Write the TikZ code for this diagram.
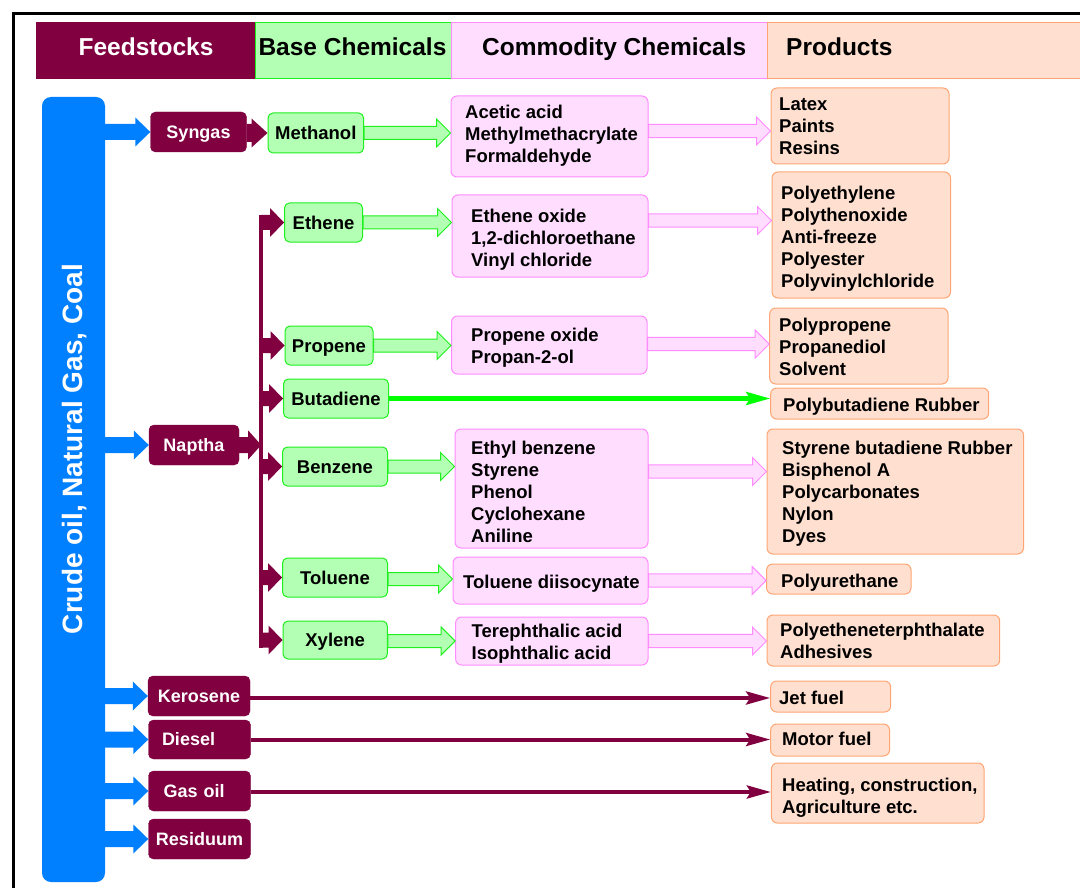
\documentclass[tikz,border=0pt]{standalone}
\usepackage{fontspec}
\setmainfont{Liberation Sans}
\usetikzlibrary{calc,arrows.meta}
\definecolor{mrn}{RGB}{128,0,64}
\definecolor{blu}{RGB}{0,128,255}
\definecolor{gfill}{RGB}{179,255,179}
\definecolor{gline}{RGB}{30,240,30}
\definecolor{pfill}{RGB}{255,221,255}
\definecolor{pline}{RGB}{255,140,255}
\definecolor{ofill}{RGB}{255,224,208}
\definecolor{oline}{RGB}{255,165,115}
\definecolor{lgreen}{RGB}{0,255,0}
\newcommand{\myhead}{\fontsize{24.5}{28}\selectfont\bfseries}
\newcommand{\mybody}{\fontsize{18.5}{22}\selectfont\bfseries}
\newcommand{\myfeed}{\fontsize{18}{22}\selectfont\bfseries}
\newcommand{\myvert}{\fontsize{28}{32}\selectfont\bfseries}
% #1 style, #2 start, #3 end (tip), #4 shaft half, #5 head half, #6 head length
\newcommand{\blockarrow}[6]{%
  \path[#1] let \p1=(#2), \p2=(#3) in
    (\x1,\y2+#4) -- (\x2-#6,\y2+#4) -- (\x2-#6,\y2+#5) -- (\x2,\y2)
    -- (\x2-#6,\y2-#5) -- (\x2-#6,\y2-#4) -- (\x1,\y2-#4) -- cycle;}
\begin{document}
\begin{tikzpicture}[x=1pt,y=-1pt,
  hdr/.style={rectangle, inner sep=0pt, minimum height=56pt},
  htxt/.style={inner sep=0pt, font=\myhead, text height=17.5pt, text depth=0pt},
  feed/.style={rectangle, rounded corners=5pt, fill=mrn, draw=mrn, text=white,
    font=\myfeed, inner sep=0pt, minimum height=40pt, text height=12.9pt, text depth=0pt},
  base/.style={rectangle, rounded corners=5pt, fill=gfill, draw=gline, line width=1pt,
    font=\mybody, inner sep=0pt, minimum height=39pt, text height=13.2pt, text depth=0pt},
  comm/.style={rectangle, rounded corners=6pt, fill=pfill, draw=pline, line width=1pt, inner sep=0pt},
  prod/.style={rectangle, rounded corners=6pt, fill=ofill, draw=oline, line width=1pt, inner sep=0pt},
  txt/.style={anchor=west, align=left, inner sep=0pt, font=\mybody},
  bluearr/.style={fill=blu},
  mrnarr/.style={fill=mrn},
  grnarr/.style={fill=gfill, draw=gline, line width=1pt},
  pnkarr/.style={fill=pfill, draw=pline, line width=1pt},
  grnline/.style={draw=lgreen, line width=4.3pt, -{Stealth[length=24pt,width=13pt,inset=4pt]}},
  mrnline/.style={draw=mrn, line width=4pt, -{Stealth[length=24pt,width=13pt,inset=4pt]}}
]
\useasboundingbox (0,0) rectangle (1080,888);
\fill[white] (0,0) rectangle (1080,888);
% frame
\draw[line width=3.5pt] (13.5,888) -- (13.5,13.5) -- (1080,13.5);

% header
\node[hdr, fill=mrn, draw=mrn, minimum width=219pt] (hF) at (145.5,50) {};
\node[hdr, fill=gfill, draw=gline, minimum width=196pt] (hB) at (353,50) {};
\node[hdr, fill=pfill, draw=pline, minimum width=316pt] (hC) at (609,50) {};
\node[hdr, fill=ofill, draw=oline, minimum width=318pt] (hP) at (926,50) {};
\node[htxt, text=white] (hFt) at (146,47) {Feedstocks};
\node[htxt] (hBt) at (352.5,47) {Base Chemicals};
\node[htxt, anchor=west] (hCt) at (482,47) {Commodity Chemicals};
\node[htxt, anchor=west] (hPt) at (786,47) {Products};

% source bar
\node[rectangle, rounded corners=9pt, fill=blu, minimum width=63pt, minimum height=785pt, inner sep=0pt] (src) at (73.5,489.5) {};
\node[rotate=90, text=white, font=\myvert, inner sep=0pt, text height=20pt, text depth=0pt] (srct) at (72,449) {Crude oil, Natural Gas, Coal};

% feedstocks
\node[feed, minimum width=96pt] (syn) at (198.5,132) {Syngas};
\node[feed, minimum width=90pt] (nap) at (194,445) {Naptha};
\node[feed, minimum width=102pt] (ker) at (199,696) {Kerosene};
\node[feed, minimum width=102pt, minimum height=39pt, text width=75pt, inner xsep=13.5pt, align=left] (die) at (199.5,739.5) {Diesel};
\node[feed, minimum width=102pt, text width=72pt, inner xsep=15pt, align=left] (gas) at (199.5,791) {Gas oil};
\node[feed, minimum width=102pt] (res) at (199.5,839) {Residuum};

% base chemicals
\node[base, minimum width=95.6pt, minimum height=40pt] (meth) at (315.8,133) {Methanol};
\node[base, minimum width=78pt] (eth) at (323.5,222.5) {Ethene};
\node[base, minimum width=88pt] (prop) at (329,345.5) {Propene};
\node[base, minimum width=105pt] (buta) at (336,398.5) {Butadiene};
\node[base, minimum width=105pt] (benz) at (335,466.5) {Benzene};
\node[base, minimum width=105pt] (tol) at (335,577.5) {Toluene};
\node[base, minimum width=104.4pt, minimum height=38pt] (xyl) at (335.2,640) {Xylene};

% commodity chemicals
\node[comm, minimum width=197pt, minimum height=81pt] (c1) at (549.5,136.5) {};
\node[comm, minimum width=196pt, minimum height=82pt] (c2) at (550,236) {};
\node[comm, minimum width=195.5pt, minimum height=58pt] (c3) at (549.25,345) {};
\node[comm, minimum width=193pt, minimum height=119pt] (c4) at (551.5,488.5) {};
\node[comm, minimum width=195pt, minimum height=47pt] (c5) at (550.5,580.5) {};
\node[comm, minimum width=192.4pt, minimum height=48pt] (c6) at (551.8,641) {};
\node[txt] (c1t) at (465,135.7) {Acetic acid\\Methylmethacrylate\\Formaldehyde};
\node[txt] (c2t) at (471,240) {Ethene oxide\\1,2-dichloroethane\\Vinyl chloride};
\node[txt] (c3t) at (471,348.2) {Propene oxide\\Propan-2-ol};
\node[txt] (c4t) at (471,491.6) {Ethyl benzene\\Styrene\\Phenol\\Cyclohexane\\Aniline};
\node[txt] (c5t) at (463,583.7) {Toluene diisocynate};
\node[txt] (c6t) at (471.5,643.8) {Terephthalic acid\\Isophthalic acid};

% products
\node[prod, minimum width=178pt, minimum height=76pt] (p1) at (860,126) {};
\node[prod, minimum width=178.5pt, minimum height=126pt] (p2) at (861.25,235) {};
\node[prod, minimum width=178.3pt, minimum height=76pt] (p3) at (858.85,346) {};
\node[prod, minimum width=218pt, minimum height=31pt] (p4) at (879.7,403.5) {};
\node[prod, minimum width=256.5pt, minimum height=125pt] (p5) at (895.25,491.5) {};
\node[prod, minimum width=144.4pt, minimum height=30pt] (p6) at (838.8,579) {};
\node[prod, minimum width=232.7pt, minimum height=51pt] (p7) at (883.35,640.5) {};
\node[prod, minimum width=120pt, minimum height=31pt] (p8) at (830.65,696.5) {};
\node[prod, minimum width=118.8pt, minimum height=32pt] (p9) at (830.1,740) {};
\node[prod, minimum width=212.6pt, minimum height=60pt] (p10) at (877.7,793) {};
\node[txt] (p1t) at (779,126.3) {Latex\\Paints\\Resins};
\node[txt] (p2t) at (781,239.2) {Polyethylene\\Polythenoxide\\Anti-freeze\\Polyester\\Polyvinylchloride};
\node[txt] (p3t) at (779,347.3) {Polypropene\\Propanediol\\Solvent};
\node[txt] (p4t) at (783,406.3) {Polybutadiene Rubber};
\node[txt] (p5t) at (782,493.7) {Styrene butadiene Rubber\\Bisphenol A\\Polycarbonates\\Nylon\\Dyes};
\node[txt] (p6t) at (781,582.8) {Polyurethane};
\node[txt] (p7t) at (780,641.3) {Polyetheneterphthalate\\Adhesives};
\node[txt] (p8t) at (779,698) {Jet fuel};
\node[txt] (p9t) at (782,739.3) {Motor fuel};
\node[txt] (p10t) at (782,797.7) {Heating, construction,\\Agriculture etc.};

% blue arrows from source
\blockarrow{bluearr}{src.east}{syn.west}{8pt}{14.5pt}{15pt}
\blockarrow{bluearr}{src.east}{nap.west}{8pt}{14.5pt}{15pt}
\blockarrow{bluearr}{src.east}{ker.west}{8pt}{14.5pt}{15pt}
\blockarrow{bluearr}{src.east}{die.west}{8pt}{14.5pt}{15pt}
\blockarrow{bluearr}{src.east}{gas.west}{8pt}{14.5pt}{15pt}
\blockarrow{bluearr}{src.east}{res.west}{8pt}{14.5pt}{15pt}

% maroon arrows
\coordinate (bartop) at (261.2,215);
\coordinate (barbot) at (261.2,648);
\draw[mrn, line width=4.4pt] (bartop) -- (barbot);
\blockarrow{mrnarr}{syn.east}{meth.west}{9pt}{14.5pt}{16pt}
\blockarrow{mrnarr}{nap.east}{bartop |- nap.east}{8pt}{14.5pt}{13pt}
\blockarrow{mrnarr}{bartop}{eth.west}{7.5pt}{14.5pt}{14pt}
\blockarrow{mrnarr}{bartop}{prop.west}{7.5pt}{14.5pt}{14pt}
\blockarrow{mrnarr}{bartop}{buta.west}{7.5pt}{14.5pt}{14pt}
\blockarrow{mrnarr}{bartop}{benz.west}{7.5pt}{14.5pt}{14pt}
\blockarrow{mrnarr}{bartop}{tol.west}{7.5pt}{14.5pt}{14pt}
\blockarrow{mrnarr}{bartop}{xyl.west}{7.5pt}{14.5pt}{14pt}

% green arrows base -> commodity
\blockarrow{grnarr}{meth.east}{c1.west |- meth.east}{6.5pt}{14pt}{14pt}
\blockarrow{grnarr}{eth.east}{c2.west |- eth.east}{6.5pt}{14pt}{14pt}
\blockarrow{grnarr}{prop.east}{c3.west |- prop.east}{6.5pt}{14pt}{14pt}
\blockarrow{grnarr}{benz.east}{c4.west |- benz.east}{6.5pt}{14pt}{14pt}
\blockarrow{grnarr}{tol.east}{$(c5.west |- tol.east)+(0,1.5)$}{6.5pt}{14pt}{14pt}
\blockarrow{grnarr}{xyl.east}{$(c6.west |- xyl.east)+(0,1)$}{6.5pt}{14pt}{14pt}

% pink arrows commodity -> products
\blockarrow{pnkarr}{c1.east}{$(p1.west |- meth.east)+(0,-2)$}{6.7pt}{14pt}{14pt}
\blockarrow{pnkarr}{c2.east}{$(p2.west |- eth.east)+(0,-2)$}{6.7pt}{14pt}{14pt}
\blockarrow{pnkarr}{c3.east}{$(p3.west |- prop.east)+(0,-1.5)$}{6.7pt}{14pt}{14pt}
\blockarrow{pnkarr}{c4.east}{$(p5.west |- benz.east)+(0,5)$}{6.7pt}{14pt}{14pt}
\blockarrow{pnkarr}{c5.east}{$(p6.west |- tol.east)+(0,3)$}{6.7pt}{14pt}{14pt}
\blockarrow{pnkarr}{c6.east}{$(p7.west |- xyl.east)+(0,1)$}{6.7pt}{14pt}{14pt}

% line arrows
\draw[grnline] (buta.east) -- (p4.west |- buta.east);
\draw[mrnline] ($(ker.east)+(0,2)$) -- ($(p8.west |- ker.east)+(0,2)$);
\draw[mrnline] (die.east) -- (p9.west |- die.east);
\draw[mrnline] ($(gas.east)+(0,1)$) -- ($(p10.west |- gas.east)+(0,1)$);
\end{tikzpicture}
\end{document}
